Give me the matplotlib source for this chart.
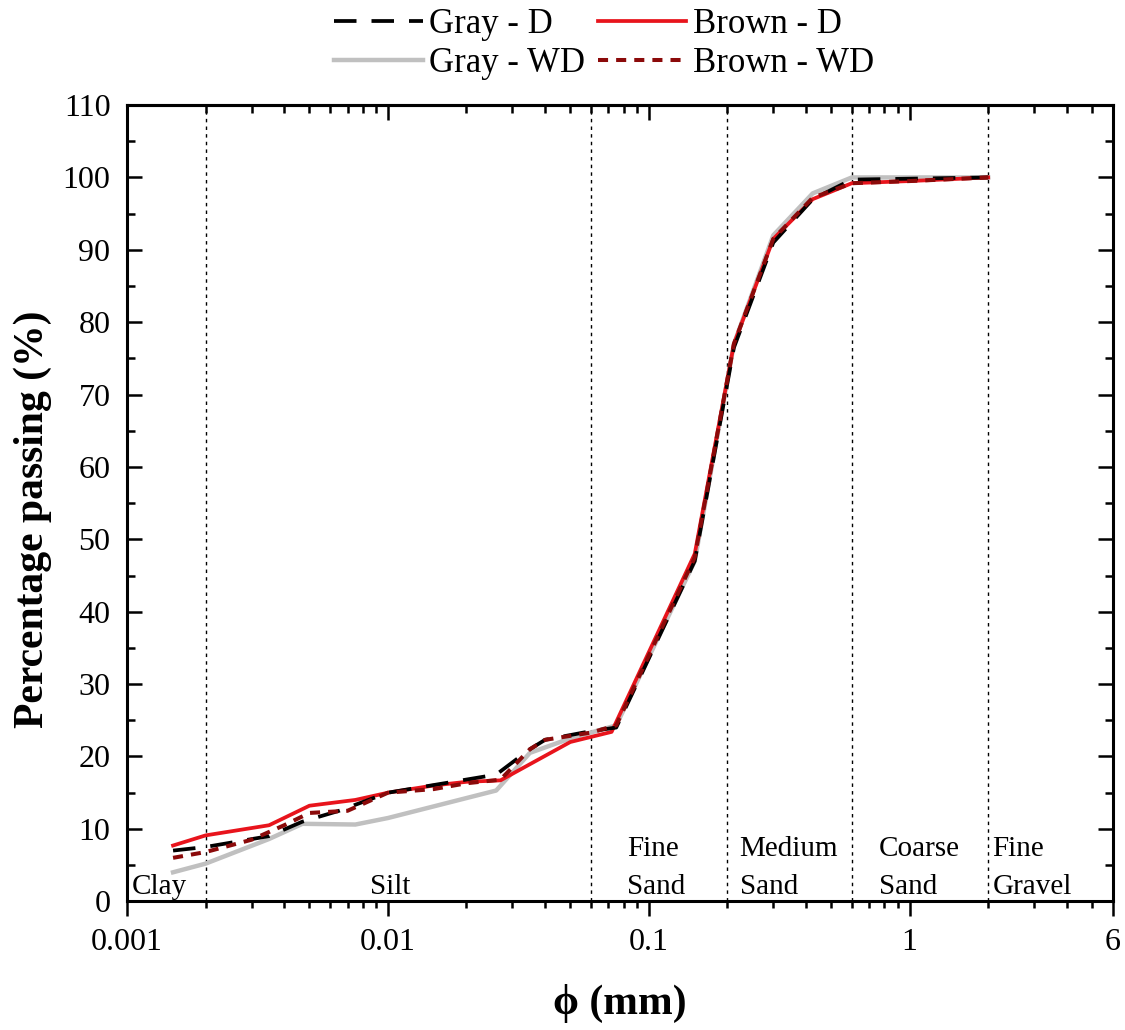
import numpy as np
import matplotlib
matplotlib.use('Agg')
import matplotlib.pyplot as plt
from matplotlib.ticker import LogLocator, FixedLocator, MultipleLocator, NullFormatter

plt.rcParams['font.family'] = ['Liberation Serif', 'DejaVu Serif']

# grain size (mm) and percentage passing for each sample
gray_d_x = [0.0015, 0.002, 0.0035, 0.0047, 0.0065, 0.01, 0.026, 0.035, 0.04, 0.06, 0.075, 0.15, 0.212, 0.3, 0.425, 0.6, 2]
gray_d_y = [7.0, 7.5, 9.0, 11.0, 12.5, 15.0, 17.5, 21.0, 22.3, 23.5, 24.0, 47.0, 76.5, 91.0, 97.0, 99.7, 100]

brown_d_x = [0.0015, 0.002, 0.0035, 0.005, 0.0075, 0.01, 0.015, 0.02, 0.027, 0.05, 0.06, 0.072, 0.15, 0.212, 0.3, 0.425, 0.6, 1, 2]
brown_d_y = [7.7, 9.1, 10.5, 13.2, 14.0, 15.0, 16.0, 16.5, 16.7, 22.0, 22.7, 23.4, 48.0, 77.0, 91.5, 97.0, 99.2, 99.5, 100]

gray_wd_x = [0.0015, 0.002, 0.0035, 0.0047, 0.0075, 0.01, 0.026, 0.035, 0.05, 0.075, 0.15, 0.212, 0.3, 0.425, 0.6, 2]
gray_wd_y = [4.0, 5.2, 8.6, 10.7, 10.6, 11.5, 15.3, 20.5, 22.5, 24.3, 47.0, 77.0, 92.0, 97.8, 100, 100]

brown_wd_x = [0.0015, 0.002, 0.003, 0.004, 0.005, 0.007, 0.01, 0.015, 0.02, 0.027, 0.035, 0.04, 0.06, 0.075, 0.15, 0.212, 0.3, 0.425, 0.6, 1, 2]
brown_wd_y = [6.0, 6.8, 8.5, 10.5, 12.2, 12.5, 15.0, 15.5, 16.3, 16.8, 21.0, 22.3, 23.3, 24.3, 47.5, 77.0, 91.5, 97.2, 99.2, 99.5, 100]

# class boundaries (mm) and labels
bounds = [0.002, 0.06, 0.2, 0.6, 2]
zone_x = [0.00104, 0.0102, 0.0824, 0.223, 0.76, 2.08]
zone_labels = ['Clay', 'Silt', 'Fine\nSand', 'Medium\nSand', 'Coarse\nSand', 'Fine\nGravel']

x_ticks = [0.001, 0.01, 0.1, 1, 6]
x_ticklabels = ['0.001', '0.01', '0.1', '1', '6']

fig = plt.figure(figsize=(11.25, 10.3), dpi=100)
ax = fig.add_axes([0.113, 0.125, 0.876, 0.773])

l1, = ax.plot(gray_d_x, gray_d_y, color='black', lw=2.7, dashes=(6, 4), zorder=4)
l2, = ax.plot(brown_d_x, brown_d_y, color='#e8141c', lw=2.7, zorder=3)
l3, = ax.plot(gray_wd_x, gray_wd_y, color='#c0c0c0', lw=3.2, zorder=2)
l4, = ax.plot(brown_wd_x, brown_wd_y, color='#8b0a0a', lw=2.9, dashes=(2.5, 2), zorder=5)

for b in bounds:
    ax.axvline(b, color='black', lw=1.0, ls=(0, (2.5, 3)), zorder=1)

for zx, zl in zip(zone_x, zone_labels):
    ha = 'center' if zl == 'Silt' else 'left'
    ax.text(zx, 0.2, zl, fontsize=21, ha=ha, va='bottom', linespacing=1.6)

ax.set_xscale('log')
ax.set_xlim(0.001, 6)
ax.set_ylim(0, 110)

ax.xaxis.set_major_locator(FixedLocator(x_ticks))
ax.set_xticklabels(x_ticklabels)
ax.xaxis.set_minor_locator(LogLocator(base=10, subs=np.arange(2, 10)))
ax.xaxis.set_minor_formatter(NullFormatter())
ax.yaxis.set_major_locator(MultipleLocator(10))
ax.yaxis.set_minor_locator(MultipleLocator(5))

ax.tick_params(axis='x', which='both', direction='out', top=False, width=1.8, labelsize=23, pad=8)
ax.tick_params(axis='x', which='major', length=11)
ax.tick_params(axis='x', which='minor', length=5)
ax.tick_params(axis='y', which='both', direction='in', right=True, width=1.8, labelsize=23, pad=12)
ax.tick_params(axis='y', which='major', length=11)
ax.tick_params(axis='y', which='minor', length=6)

# inward ticks along the top edge
sec = ax.secondary_xaxis('top')
sec.xaxis.set_major_locator(FixedLocator(x_ticks))
sec.xaxis.set_minor_locator(LogLocator(base=10, subs=np.arange(2, 10)))
sec.xaxis.set_minor_formatter(NullFormatter())
sec.tick_params(which='both', direction='in', width=1.8, labeltop=False)
sec.tick_params(which='major', length=11)
sec.tick_params(which='minor', length=6)
sec.spines['top'].set_linewidth(2.2)

for s in ax.spines.values():
    s.set_linewidth(2.2)

ax.set_ylabel('Percentage passing (%)', fontsize=30, fontweight='bold')
ax.yaxis.set_label_coords(-0.076, 0.48)
ax.set_xlabel('ϕ (mm)', fontsize=30, fontweight='bold', labelpad=20)

fig.legend([l1, l3, l2, l4], ['Gray - D', 'Gray - WD', 'Brown - D', 'Brown - WD'],
           ncol=2, loc='upper center', bbox_to_anchor=(0.537, 1.012), frameon=False,
           fontsize=25, handlelength=2.55, handletextpad=0.2, columnspacing=0.35,
           labelspacing=0.15, borderaxespad=0.2)

fig.savefig('out.png', dpi=100)
